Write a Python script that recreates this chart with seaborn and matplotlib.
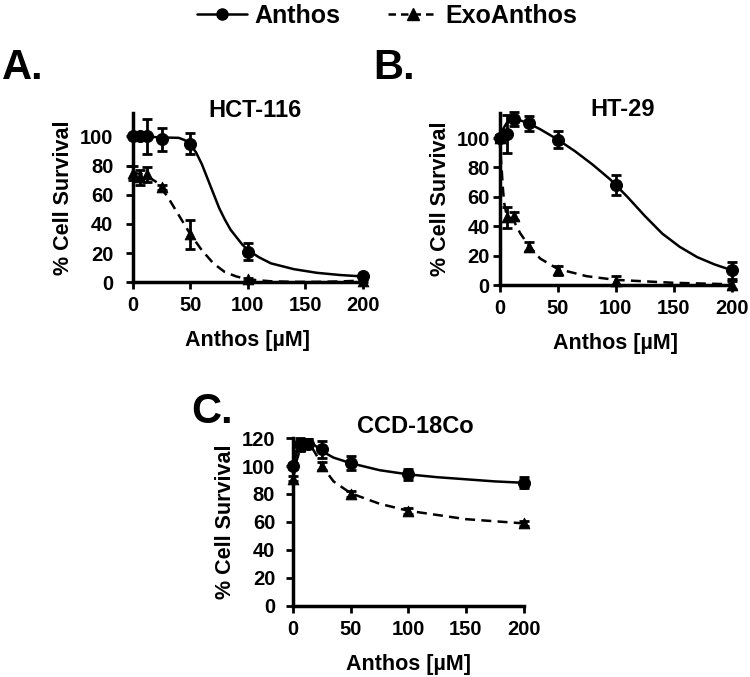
import matplotlib
matplotlib.use('Agg')
import matplotlib.pyplot as plt
import seaborn as sns
from matplotlib.lines import Line2D

sns.set_style('ticks')
plt.rcParams['font.family'] = ['Liberation Sans', 'DejaVu Sans']
plt.rcParams['font.weight'] = 'bold'
plt.rcParams['text.color'] = 'black'
plt.rcParams['axes.labelcolor'] = 'black'
plt.rcParams['xtick.color'] = 'black'
plt.rcParams['ytick.color'] = 'black'

# measured points (concentration in uM)
conc = [0, 6.25, 12.5, 25, 50, 100, 200]

hct_anthos = [100, 100, 100, 98, 95, 21, 4]
hct_anthos_err = [1, 1, 12, 8, 7, 6, 1]
hct_exo = [75, 72, 74, 65, 33, 2, 1]
hct_exo_err = [5, 5, 5, 2, 10, 1, 1]

ht_anthos = [100, 103, 113, 110, 99, 68, 10]
ht_anthos_err = [2, 13, 5, 5, 6, 7, 6]
ht_exo = [100, 46, 47, 26, 10, 3, 0]
ht_exo_err = [2, 7, 3, 3, 3, 3, 3]

ccd_anthos = [100, 116, 116, 112, 102, 94, 88]
ccd_anthos_err = [2, 4, 3, 6, 5, 4, 4]
ccd_exo = [91, 114, 116, 100, 80, 68, 59]
ccd_exo_err = [2, 3, 3, 3, 2, 2, 2]

# fitted curves
hct_anthos_fit_x = [0, 10, 20, 30, 40, 45, 50, 55, 60, 65, 70, 75, 80, 85, 90, 95, 100, 110, 120, 140, 160, 180, 200]
hct_anthos_fit_y = [100, 100, 99.5, 99.2, 99, 97.5, 94.5, 89, 81, 71, 61, 51, 43, 36, 31, 26, 22, 17, 13, 9, 6.5, 5, 4]
hct_exo_fit_x = [0, 10, 20, 30, 40, 50, 60, 70, 80, 90, 100, 120, 140, 160, 180, 200]
hct_exo_fit_y = [75, 74, 69, 59, 46, 33, 22, 13, 7, 4, 2, 0.7, 0.3, 0.3, 0.6, 1.2]

ht_anthos_fit_x = [0, 3, 6, 9, 12, 18, 25, 35, 50, 65, 80, 95, 110, 125, 140, 155, 170, 185, 200]
ht_anthos_fit_y = [100, 106, 110, 112.5, 113, 112, 110, 106, 99, 91, 82, 72, 60, 47, 35, 26, 19, 14, 10]
ht_exo_fit_x = [0, 1, 2, 3, 4, 6, 9, 12, 18, 25, 35, 50, 75, 100, 150, 200]
ht_exo_fit_y = [100, 88, 77, 65, 56, 48, 46, 44, 35, 27, 18, 11, 6, 3.5, 1.5, 0.5]

ccd_fit_x = [0, 3, 6, 9, 12, 15, 20, 25, 35, 50, 75, 100, 125, 150, 175, 200]
ccd_anthos_fit_y = [100, 110, 115, 117.5, 118, 117, 114, 110.5, 106, 102, 97, 94, 92, 90.5, 89, 88]
ccd_exo_fit_y = [91, 104, 112, 116, 117.5, 115, 108, 100, 89, 80.5, 73, 68, 65, 62, 60.5, 59]

fig = plt.figure(figsize=(7.5, 6.77), dpi=100)
axA = fig.add_axes([0.177, 0.583, 0.307, 0.250])
axB = fig.add_axes([0.666, 0.579, 0.310, 0.254])
axC = fig.add_axes([0.391, 0.105, 0.307, 0.248])


def draw_panel(ax, title, a, a_err, e, e_err, afx, afy, efx, efy, ymax, yticks,
               ypad, ty):
    sns.lineplot(x=afx, y=afy, ax=ax, color='black', lw=1.8, clip_on=False)
    sns.lineplot(x=efx, y=efy, ax=ax, color='black', lw=1.8, linestyle=(0, (4, 2.5)), clip_on=False)
    for vals, errs in [(a, a_err), (e, e_err)]:
        ax.errorbar(conc, vals, yerr=errs, fmt='none', ecolor='black',
                    elinewidth=2, capsize=3.5, capthick=2, clip_on=False, zorder=3)
    sns.scatterplot(x=conc, y=e, ax=ax, marker='^', s=60, color='black',
                    edgecolor='black', clip_on=False, zorder=4)
    sns.scatterplot(x=conc, y=a, ax=ax, marker='o', s=75, color='black',
                    edgecolor='black', clip_on=False, zorder=4)
    ax.set_xlim(0, 200)
    ax.set_ylim(0, ymax)
    ax.set_xticks([0, 50, 100, 150, 200])
    ax.set_yticks(yticks)
    for s in ['top', 'right']:
        ax.spines[s].set_visible(False)
    for s in ['left', 'bottom']:
        ax.spines[s].set_linewidth(2.5)
        ax.spines[s].set_color('black')
    ax.tick_params(axis='both', length=5, width=2, labelsize=14.5, color='black')
    ax.tick_params(axis='x', pad=5)
    ax.tick_params(axis='y', pad=ypad)
    for lab in ax.get_xticklabels() + ax.get_yticklabels():
        lab.set_fontweight('bold')
    ax.set_xlabel('Anthos [µM]', fontsize=15.5, fontweight='bold', labelpad=11)
    ax.set_ylabel('% Cell Survival', fontsize=15.5, fontweight='bold', labelpad=4)
    ax.set_title(title, fontsize=17, fontweight='bold', pad=0, x=0.53, y=ty)


draw_panel(axA, 'HCT-116', hct_anthos, hct_anthos_err, hct_exo, hct_exo_err,
           hct_anthos_fit_x, hct_anthos_fit_y, hct_exo_fit_x, hct_exo_fit_y,
           116, [0, 20, 40, 60, 80, 100], 9, 0.975)
draw_panel(axB, 'HT-29', ht_anthos, ht_anthos_err, ht_exo, ht_exo_err,
           ht_anthos_fit_x, ht_anthos_fit_y, ht_exo_fit_x, ht_exo_fit_y,
           117, [0, 20, 40, 60, 80, 100], 2, 0.98)
draw_panel(axC, 'CCD-18Co', ccd_anthos, ccd_anthos_err, ccd_exo, ccd_exo_err,
           ccd_fit_x, ccd_anthos_fit_y, ccd_fit_x, ccd_exo_fit_y,
           120, [0, 20, 40, 60, 80, 100, 120], 8, 1.03)

# panel letters
fig.text(0.003, 0.900, 'A.', fontsize=30, fontweight='bold', va='center')
fig.text(0.497, 0.900, 'B.', fontsize=30, fontweight='bold', va='center')
fig.text(0.255, 0.392, 'C.', fontsize=30, fontweight='bold', va='center')

handles = [
    Line2D([], [], color='black', lw=1.8, marker='o', markersize=8, label='Anthos'),
    Line2D([], [], color='black', lw=1.8, linestyle=(0, (3, 2)), marker='^', markersize=8, label='ExoAnthos'),
]
leg = fig.legend(handles=handles, loc='upper center', bbox_to_anchor=(0.516, 1.028), ncol=2,
                 frameon=False, fontsize=18, handlelength=2.0, columnspacing=1.9, handletextpad=0.3)
for t in leg.get_texts():
    t.set_fontweight('bold')

plt.savefig('out.png', dpi=100)
